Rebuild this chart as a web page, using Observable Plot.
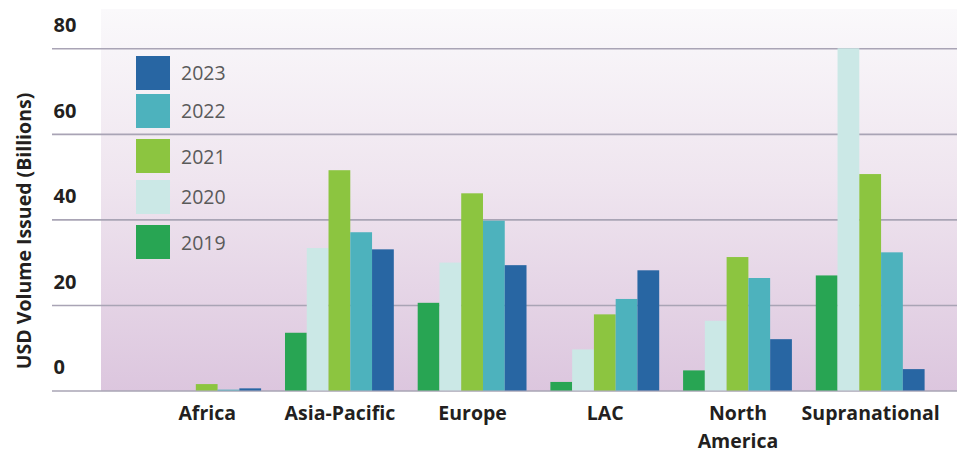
<!DOCTYPE html>
<html>
<head>
<meta charset="utf-8">
<script src="https://cdn.jsdelivr.net/npm/d3@7"></script>
<script src="https://cdn.jsdelivr.net/npm/@observablehq/plot@0.6"></script>
<style>
  html, body { margin: 0; padding: 0; background: #ffffff; }
  #wrap { position: relative; width: 957px; height: 455px; font-family: "Open Sans", sans-serif; }
  #bg { position: absolute; left: 101px; top: 9px; width: 856px; height: 381.5px;
        background: linear-gradient(to bottom, #faf9fb 0%, #efe5ef 45%, #dcc6de 100%); }
  #chart { position: absolute; left: 0; top: 0; }
  #ytitle { position: absolute; left: 23px; top: 231px; transform: translate(-50%, -50%) rotate(-90deg);
            white-space: nowrap; font-weight: 700; font-size: 19.5px; color: #231f20; }
  #legend { position: absolute; left: 136px; top: 0; }
  .item { position: absolute; left: 0; display: flex; align-items: center; white-space: nowrap; }
  .sw { width: 34px; height: 34px; }
  .lab { margin-left: 11px; font-size: 19.5px; color: #5a5a5a; font-weight: 400; }
</style>
</head>
<body>
<div id="wrap">
  <div id="bg"></div>
  <div id="chart"></div>
  <div id="ytitle"></div>
  <div id="legend"></div>
</div>
<script>
const regions = ["Africa", "Asia-Pacific", "Europe", "LAC", "North America", "Supranational"];
const years = ["2019", "2020", "2021", "2022", "2023"];
const v2019 = [0, 13.5, 20.5, 2.0, 4.7, 26.9];
const v2020 = [0, 33.3, 29.9, 9.6, 16.3, 80];
const v2021 = [1.5, 51.5, 46.1, 17.8, 31.2, 50.6];
const v2022 = [0.2, 37.0, 39.7, 21.4, 26.3, 32.3];
const v2023 = [0.5, 33.0, 29.3, 28.1, 12.0, 5.0];
const colors = ["#28a553", "#cbe8e6", "#8cc540", "#4db2bd", "#2866a3"];
const yTicks = [0, 20, 40, 60, 80];
const legendOrder = ["2023", "2022", "2021", "2020", "2019"];
const yTitle = "USD Volume Issued (Billions)";

const series = [v2019, v2020, v2021, v2022, v2023];
const data = [];
years.forEach((yr, i) => regions.forEach((r, j) => data.push({region: r, year: yr, value: series[i][j]})));

const W = 957, H = 455;
const xRange = [152.3, 924.6];
const padInner = 0.18;
const step = (xRange[1] - xRange[0]) / (regions.length - padInner);
const bw = step * (1 - padInner);
const sub = bw / years.length;

const marks = [
  Plot.ruleY(yTicks, {stroke: "#a9a4b5", strokeWidth: 1.6}),
  ...years.map((yr, i) => Plot.barY(data.filter(d => d.year === yr), {
    x: "region", y: "value", fill: colors[i],
    insetLeft: i * sub, insetRight: (years.length - 1 - i) * sub
  })),
  Plot.text(yTicks, {y: d => d, text: d => String(d), frameAnchor: "left", textAnchor: "start",
    dx: 1, dy: -23, fontSize: 20, fontWeight: "bold", fill: "#231f20"}),
  Plot.axisX({tickSize: 0, tickPadding: 9.5, fontSize: 19.5, fontWeight: "bold", fill: "#231f20",
    lineHeight: 1.42, label: null,
    tickFormat: d => d === "North America" ? "North\nAmerica" : d})
];

const chart = Plot.plot({
  width: W, height: H,
  marginLeft: 52, marginRight: 0, marginTop: 48.3, marginBottom: 64.5,
  style: {background: "transparent", fontFamily: "'Open Sans', sans-serif", color: "#231f20", overflow: "visible"},
  x: {domain: regions, range: xRange, paddingInner: padInner, paddingOuter: 0, round: false, axis: null},
  y: {domain: [0, 80], axis: null},
  marks
});
document.getElementById("chart").appendChild(chart);

document.getElementById("ytitle").textContent = yTitle;
const tops = [55.7, 93.7, 139, 179.7, 225];
const leg = document.getElementById("legend");
legendOrder.forEach((yr, k) => {
  const it = document.createElement("div");
  it.className = "item";
  it.style.top = tops[k] + "px";
  const sw = document.createElement("div");
  sw.className = "sw";
  sw.style.background = colors[years.indexOf(yr)];
  const lab = document.createElement("span");
  lab.className = "lab";
  lab.textContent = yr;
  it.appendChild(sw); it.appendChild(lab);
  leg.appendChild(it);
});
</script>
</body>
</html>
